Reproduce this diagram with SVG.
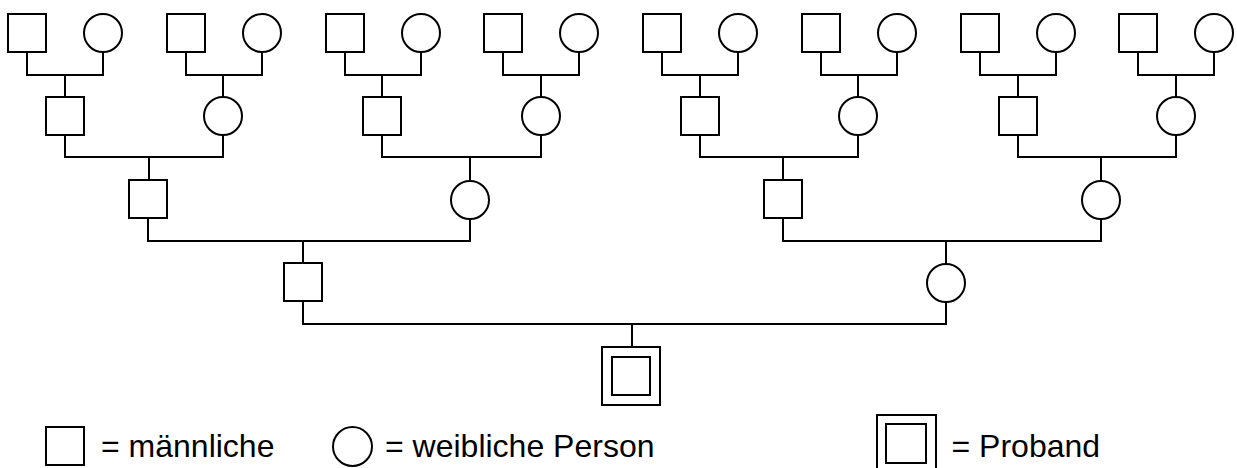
<svg xmlns="http://www.w3.org/2000/svg" width="1237" height="468" viewBox="0 0 1237 468">
<style>
.p{fill:#fff;stroke:#000;stroke-width:2}
.c{fill:none;stroke:#000;stroke-width:2;stroke-linejoin:miter}
.t{font-family:"Liberation Sans",Arial,sans-serif;font-size:32px;fill:#000}
</style>
<rect width="1237" height="468" fill="#fff"/>
<g id="connectors" class="c">
<path d="M27 52V75H103V52M65 75V97"/>
<path d="M186 52V75H262V52M223 75V97"/>
<path d="M345 52V75H421V52M382 75V97"/>
<path d="M503 52V75H579V52M541 75V97"/>
<path d="M662 52V75H738V52M700 75V97"/>
<path d="M821 52V75H897V52M858 75V97"/>
<path d="M980 52V75H1056V52M1018 75V97"/>
<path d="M1138 52V75H1214V52M1176 75V97"/>
<path d="M65 135V157H223V135M149 157V180"/>
<path d="M382 135V157H541V135M470 157V181"/>
<path d="M700 135V157H858V135M783 157V180"/>
<path d="M1018 135V157H1176V135M1101 157V181"/>
<path d="M148 218V241H470V219M303 241V263"/>
<path d="M783 218V241H1101V219M946 241V264"/>
<path d="M303 301V324H946V302M632 324V347"/>
</g>
<g id="gen5">
<rect id="m1" class="p" x="8" y="14" width="38" height="38"/>
<circle id="f1" class="p" cx="103" cy="33" r="19"/>
<rect id="m2" class="p" x="167" y="14" width="38" height="38"/>
<circle id="f2" class="p" cx="262" cy="33" r="19"/>
<rect id="m3" class="p" x="326" y="14" width="38" height="38"/>
<circle id="f3" class="p" cx="421" cy="33" r="19"/>
<rect id="m4" class="p" x="484" y="14" width="38" height="38"/>
<circle id="f4" class="p" cx="579" cy="33" r="19"/>
<rect id="m5" class="p" x="643" y="14" width="38" height="38"/>
<circle id="f5" class="p" cx="738" cy="33" r="19"/>
<rect id="m6" class="p" x="802" y="14" width="38" height="38"/>
<circle id="f6" class="p" cx="897" cy="33" r="19"/>
<rect id="m7" class="p" x="961" y="14" width="38" height="38"/>
<circle id="f7" class="p" cx="1056" cy="33" r="19"/>
<rect id="m8" class="p" x="1119" y="14" width="38" height="38"/>
<circle id="f8" class="p" cx="1214" cy="33" r="19"/>
</g>
<g id="gen4">
<rect id="g4m1" class="p" x="46" y="97" width="38" height="38"/>
<circle id="g4f1" class="p" cx="223" cy="116" r="19"/>
<rect id="g4m2" class="p" x="363" y="97" width="38" height="38"/>
<circle id="g4f2" class="p" cx="541" cy="116" r="19"/>
<rect id="g4m3" class="p" x="681" y="97" width="38" height="38"/>
<circle id="g4f3" class="p" cx="858" cy="116" r="19"/>
<rect id="g4m4" class="p" x="999" y="97" width="38" height="38"/>
<circle id="g4f4" class="p" cx="1176" cy="116" r="19"/>
</g>
<g id="gen3">
<rect id="g3m1" class="p" x="129" y="180" width="38" height="38"/>
<circle id="g3f1" class="p" cx="470" cy="200" r="19"/>
<rect id="g3m2" class="p" x="764" y="180" width="38" height="38"/>
<circle id="g3f2" class="p" cx="1101" cy="200" r="19"/>
</g>
<g id="gen2">
<rect id="father" class="p" x="284" y="263" width="38" height="38"/>
<circle id="mother" class="p" cx="946" cy="283" r="19"/>
</g>
<g id="proband">
<rect class="p" x="602" y="347" width="58" height="58"/>
<rect class="p" x="612" y="357" width="38" height="38"/>
</g>
<g id="legend">
<rect class="p" x="46" y="427" width="38" height="38"/>
<text class="t" x="101" y="457">= männliche</text>
<circle class="p" cx="352.5" cy="446.5" r="19.5"/>
<text class="t" x="385" y="457">= weibliche Person</text>
<rect class="p" x="877" y="415" width="59" height="60"/>
<rect class="p" x="886" y="424" width="40" height="39"/>
<text class="t" x="951.5" y="457">= Proband</text>
</g>
</svg>
